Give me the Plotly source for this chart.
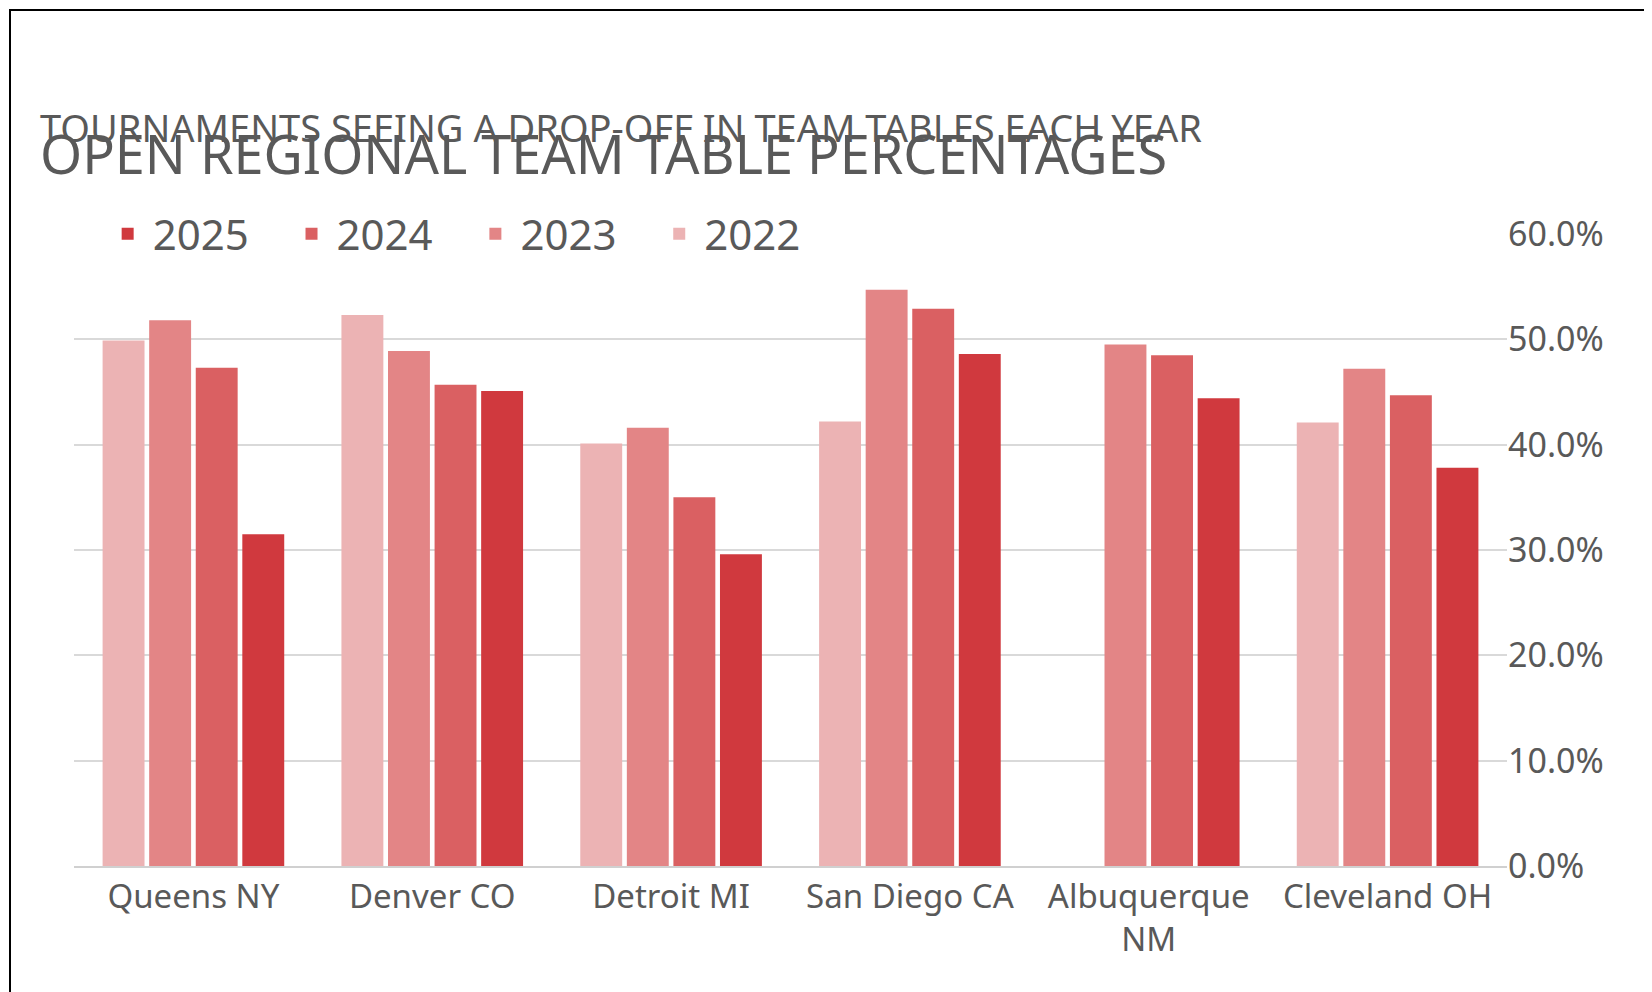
import plotly.graph_objects as go

cities = ["Queens NY", "Denver CO", "Detroit MI", "San Diego CA", "Albuquerque<br>NM", "Cleveland OH"]
years = ["2022", "2023", "2024", "2025"]
v2022 = [49.9, 52.3, 40.1, 42.2, None, 42.1]
v2023 = [51.8, 48.9, 41.6, 54.7, 49.5, 47.2]
v2024 = [47.3, 45.7, 35.0, 52.9, 48.5, 44.7]
v2025 = [31.5, 45.1, 29.6, 48.6, 44.4, 37.8]
colors = ["#ecb3b4", "#e38586", "#da6062", "#d0393e"]

fig = go.Figure()
for yr, vals, c in zip(years, [v2022, v2023, v2024, v2025], colors):
    fig.add_trace(go.Bar(x=cities, y=vals, name=yr + "   ", marker_color=c,
                         marker_line_width=0))

fnt = "Noto Sans"
grey = "#595959"
L, R, T, B = 66, 153, 226, 134
W, H = 1652 - L - R, 992 - T - B
fig.update_layout(
    width=1652, height=992,
    margin=dict(l=L, r=R, t=T, b=B),
    plot_bgcolor="white", paper_bgcolor="white",
    font=dict(family=fnt, color=grey),
    barmode="group", bargap=0.22, bargroupgap=0.1,
    showlegend=True,
    legend=dict(orientation="h", traceorder="reversed", x=0.02, y=1.0,
                xanchor="left", yanchor="middle", bgcolor="white",
                font=dict(size=42, color=grey), itemwidth=40),
    xaxis=dict(tickfont=dict(size=33, color=grey), showline=True,
               linecolor="#d0d0d0", linewidth=2, ticks=""),
    yaxis=dict(side="right", range=[0, 60], dtick=10, ticksuffix="%",
               tickformat=".1f", tickfont=dict(size=34, color=grey),
               gridcolor="#d9d9d9", gridwidth=2, zeroline=False),
)
fig.add_annotation(text="OPEN REGIONAL TEAM TABLE PERCENTAGES", xref="paper", yref="paper",
                   x=(30 - L) / W, y=(B + H - 53) / H + 0, xanchor="left", yanchor="middle",
                   showarrow=False, font=dict(size=54, color=grey))
fig.add_annotation(text="TOURNAMENTS SEEING A DROP-OFF IN TEAM TABLES EACH YEAR", xref="paper",
                   yref="paper", x=(30 - L) / W, y=(T + H - 119) / H, xanchor="left",
                   yanchor="middle", showarrow=False, font=dict(size=38, color=grey))
fig.add_shape(type="rect", xref="paper", yref="paper",
              x0=(2 - L) / W, x1=(1649 - L) / W,
              y0=(T + H - 989) / H, y1=(T + H - 2) / H,
              line=dict(color="black", width=2))
fig.write_html("out.html")
